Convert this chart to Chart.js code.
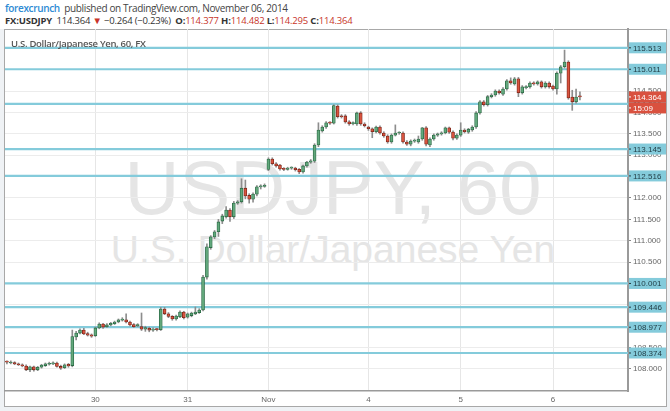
<!DOCTYPE html>
<html>
<head>
<meta charset="utf-8">
<script src="https://cdn.jsdelivr.net/npm/chart.js@4.4.1/dist/chart.umd.min.js"></script>
<style>
  body { margin: 0; width: 670px; height: 411px; overflow: hidden; position: relative;
         background: #eff2f5; font-family: "Liberation Sans", Arial, sans-serif; }
  #top { position: absolute; left: 0; top: 0; width: 670px; height: 29px; background: #fff; }
  #hdr1 { position: absolute; left: 5px; top: 1px; font-size: 10px; color: #444; white-space: nowrap;
          font-family: "Open Sans", sans-serif; letter-spacing: -0.35px; }
  #hdr1 .brand { color: #2e8bd4; font-weight: 600; }
  #hdr2 { position: absolute; left: 5px; top: 14px; font-size: 9.5px; color: #333; white-space: nowrap;
          font-family: "Open Sans", sans-serif; letter-spacing: -0.2px; }
  #hdr2 b { font-weight: 700; }
  #hdr2 .red { color: #c8352a; }
  #panel { position: absolute; left: 4px; top: 29px; width: 661px; height: 376px;
           border: 1px solid #a8a8a8; background: #fff; }
  .wm { position: absolute; left: 0; width: 666px; text-align: center; color: #e5e5e5;
        line-height: 1; white-space: nowrap; font-family: "Liberation Sans", Arial, sans-serif; }
  #wm1 { top: 150px; font-size: 76px; }
  #wm2 { top: 230px; font-size: 39px; }
  #title { position: absolute; left: 11px; top: 37px; font-size: 9.5px; color: #555; font-weight: 600;
           font-family: "Open Sans", sans-serif; letter-spacing: -0.3px; white-space: nowrap; }
  canvas { position: absolute; left: 0; top: 0; }
</style>
</head>
<body>
<div id="top"></div>
<div id="hdr1"><span class="brand">forexcrunch</span>&nbsp; published on TradingView.com, November 06, 2014</div>
<div id="hdr2"><b>FX:USDJPY</b>&nbsp; 114.364 <span class="red">▼</span> −0.264 (−0.23%) &nbsp;<b>O:</b><span class="red">114.377</span> <b>H:</b><span class="red">114.482</span> <b>L:</b><span class="red">114.295</span> <b>C:</b><span class="red">114.364</span></div>
<div id="panel"></div>
<div class="wm" id="wm1">USDJPY, 60</div>
<div class="wm" id="wm2">U.S. Dollar/Japanese Yen</div>
<canvas id="chart" width="670" height="411"></canvas>
<div id="title">U.S. Dollar/Japanese Yen, 60, FX</div>
<script>
// hourly USDJPY candles, Oct 29 - Nov 6 2014
const opens = [
  108.17, 108.14, 108.15, 108.12, 108.10, 108.07, 107.98, 108.05, 107.98, 108.04,
  108.08, 108.11, 108.12, 108.14, 108.06, 108.03, 108.11, 108.08, 108.75, 108.84,
  108.91, 108.83, 108.80, 108.78, 108.96, 109.05, 108.99, 109.03, 109.06, 109.10,
  109.14, 109.15, 109.10, 109.04, 109.01, 108.99, 108.93, 108.95, 108.91, 108.93,
  108.92, 109.40, 109.29, 109.23, 109.17, 109.22, 109.33, 109.21, 109.25, 109.29,
  109.32, 109.38, 110.15, 110.84, 111.09, 111.21, 111.46, 111.56, 111.72, 111.56,
  111.88, 111.91, 112.23, 112.06, 111.97, 112.09, 112.26, 112.27, 112.67, 112.91,
  112.80, 112.77, 112.68, 112.67, 112.70, 112.70, 112.67, 112.61, 112.75, 112.84,
  112.86, 113.24, 113.57, 113.66, 113.76, 113.75, 114.15, 113.92, 113.92, 113.78,
  113.74, 113.73, 113.99, 113.73, 113.66, 113.62, 113.55, 113.66, 113.52, 113.45,
  113.31, 113.47, 113.52, 113.52, 113.31, 113.26, 113.33, 113.31, 113.38, 113.64,
  113.24, 113.38, 113.47, 113.50, 113.52, 113.64, 113.54, 113.40, 113.47, 113.59,
  113.54, 113.59, 113.66, 113.99, 114.25, 114.18, 114.37, 114.41, 114.50, 114.43,
  114.55, 114.74, 114.67, 114.79, 114.46, 114.58, 114.60, 114.69, 114.67, 114.72,
  114.60, 114.69, 114.62, 114.55, 114.92, 115.07, 115.18, 114.36, 114.25, 114.377
];
const highs = [
  108.19, 108.19, 108.17, 108.14, 108.12, 108.10, 108.07, 108.07, 108.06, 108.11,
  108.14, 108.16, 108.17, 108.16, 108.09, 108.12, 108.13, 108.91, 108.88, 108.94,
  108.95, 108.86, 108.82, 108.98, 109.08, 109.07, 109.06, 109.09, 109.12, 109.17,
  109.20, 109.29, 109.12, 109.06, 109.06, 109.31, 109.00, 108.98, 108.96, 108.95,
  109.44, 109.44, 109.32, 109.25, 109.26, 109.36, 109.35, 109.31, 109.33, 109.45,
  109.41, 110.19, 110.93, 111.12, 111.24, 111.50, 111.62, 111.80, 111.75, 111.92,
  111.94, 112.45, 112.42, 112.10, 112.12, 112.29, 112.31, 112.33, 112.94, 112.94,
  112.83, 112.79, 112.71, 112.72, 112.73, 112.72, 112.69, 112.77, 112.86, 112.90,
  113.27, 113.76, 113.69, 113.79, 113.79, 114.18, 114.18, 113.95, 113.95, 113.81,
  113.78, 114.01, 114.02, 113.76, 113.68, 113.64, 113.68, 113.69, 113.55, 113.48,
  113.50, 113.71, 113.55, 113.55, 113.34, 113.36, 113.38, 113.45, 113.65, 113.67,
  113.41, 113.50, 113.52, 113.55, 113.66, 113.66, 113.57, 113.50, 113.76, 113.62,
  113.63, 113.69, 114.02, 114.28, 114.28, 114.40, 114.44, 114.53, 114.53, 114.58,
  114.77, 114.81, 114.82, 114.82, 114.63, 114.63, 114.72, 114.72, 114.74, 114.74,
  114.72, 114.72, 114.64, 114.95, 115.10, 115.46, 115.21, 114.52, 114.55, 114.482
];
const lows = [
  108.12, 108.12, 108.10, 108.08, 108.05, 107.96, 107.94, 107.95, 107.96, 108.02,
  108.06, 108.09, 108.10, 108.04, 107.99, 108.01, 108.04, 108.05, 108.68, 108.82,
  108.80, 108.77, 108.74, 108.76, 108.94, 108.95, 108.97, 109.01, 109.04, 109.08,
  109.12, 109.08, 109.01, 108.97, 108.99, 108.90, 108.88, 108.87, 108.88, 108.89,
  108.90, 109.27, 109.20, 109.14, 109.14, 109.20, 109.17, 109.19, 109.22, 109.27,
  109.30, 109.36, 110.10, 110.80, 111.05, 111.10, 111.40, 111.53, 111.45, 111.52,
  111.85, 111.88, 111.98, 111.88, 111.90, 112.05, 112.21, 112.25, 112.64, 112.77,
  112.72, 112.65, 112.64, 112.65, 112.67, 112.63, 112.57, 112.58, 112.72, 112.81,
  112.83, 113.20, 113.54, 113.63, 113.72, 113.73, 113.87, 113.87, 113.75, 113.70,
  113.71, 113.70, 113.70, 113.66, 113.58, 113.41, 113.52, 113.49, 113.42, 113.28,
  113.28, 113.45, 113.49, 113.28, 113.23, 113.22, 113.30, 113.28, 113.35, 113.22,
  113.20, 113.35, 113.44, 113.47, 113.50, 113.51, 113.36, 113.37, 113.44, 113.52,
  113.51, 113.56, 113.63, 113.96, 114.15, 114.15, 114.34, 114.38, 114.43, 114.40,
  114.52, 114.66, 114.64, 114.37, 114.43, 114.55, 114.57, 114.64, 114.64, 114.57,
  114.57, 114.57, 114.52, 114.43, 114.69, 115.04, 114.31, 114.05, 114.22, 114.295
];
const closes = [
  108.16, 108.15, 108.12, 108.10, 108.07, 107.98, 108.05, 107.98, 108.04, 108.09,
  108.12, 108.13, 108.14, 108.06, 108.02, 108.10, 108.07, 108.76, 108.84, 108.91,
  108.82, 108.79, 108.77, 108.96, 109.05, 108.98, 109.03, 109.07, 109.10, 109.15,
  109.17, 109.10, 109.03, 108.99, 109.04, 108.93, 108.97, 108.91, 108.93, 108.92,
  109.40, 109.29, 109.23, 109.17, 109.24, 109.33, 109.20, 109.29, 109.31, 109.33,
  109.38, 110.15, 110.86, 111.09, 111.21, 111.44, 111.58, 111.72, 111.56, 111.88,
  111.91, 112.23, 112.05, 111.97, 112.09, 112.26, 112.27, 112.29, 112.91, 112.80,
  112.75, 112.68, 112.67, 112.70, 112.70, 112.66, 112.61, 112.75, 112.84, 112.87,
  113.24, 113.59, 113.66, 113.76, 113.75, 114.16, 113.90, 113.90, 113.78, 113.73,
  113.75, 113.99, 113.73, 113.69, 113.62, 113.55, 113.66, 113.52, 113.45, 113.31,
  113.47, 113.52, 113.52, 113.31, 113.26, 113.33, 113.35, 113.38, 113.64, 113.26,
  113.38, 113.47, 113.50, 113.52, 113.64, 113.54, 113.40, 113.47, 113.59, 113.55,
  113.61, 113.66, 113.99, 114.25, 114.18, 114.37, 114.41, 114.50, 114.46, 114.55,
  114.74, 114.69, 114.79, 114.46, 114.60, 114.60, 114.69, 114.67, 114.72, 114.60,
  114.69, 114.60, 114.55, 114.92, 115.07, 115.18, 114.34, 114.25, 114.36, 114.364
];

// horizontal levels drawn on the chart
const levels = [115.513, 115.011, 114.200, 113.145, 112.516, 110.001, 109.446, 108.977, 108.374];

// day labels on the time axis and the hourly slot they sit on
const dayLabels = ['30', '31', 'Nov', '4', '5', '6'];
const dayIndex = [23, 47, 68, 94, 118, 142];
const totalSlots = 162; // includes empty space right of the last bar
const countdown = '15:09';

const hourLabels = new Array(totalSlots).fill('');
dayIndex.forEach((d, k) => { hourLabels[d] = dayLabels[k]; });

const upFill = '#62a87c', upLine = '#2c6a45';
const dnFill = '#d9543f', dnLine = '#7b2519';
const bodyFill = opens.map((o, i) => closes[i] >= o ? upFill : dnFill);
const bodyLine = opens.map((o, i) => closes[i] >= o ? upLine : dnLine);

const fontFam = '"Liberation Sans", Arial, sans-serif';

const levelPlugin = {
  id: 'levels',
  beforeDatasetsDraw(chart) {
    const { ctx, chartArea: a, scales: { y } } = chart;
    ctx.save();
    ctx.strokeStyle = '#84cbdb';
    ctx.lineWidth = 2.2;
    levels.forEach(v => {
      const py = y.getPixelForValue(v);
      ctx.beginPath();
      ctx.moveTo(a.left, py);
      ctx.lineTo(a.right, py);
      ctx.stroke();
    });
    ctx.restore();
  },
  afterDraw(chart) {
    const { ctx, chartArea: a, scales: { y } } = chart;
    const box = (text, py, fill, color) => {
      ctx.fillStyle = fill;
      ctx.fillRect(a.right + 1, py - 5.5, 37, 11);
      ctx.fillStyle = color;
      ctx.fillRect(a.right + 1, py - 0.5, 2, 1);
      ctx.fillText(text, a.right + 5, py + 0.5);
    };
    ctx.save();
    ctx.font = '8px ' + fontFam;
    ctx.textBaseline = 'middle';
    levels.forEach(v => box(v.toFixed(3), y.getPixelForValue(v), '#84cbdb', '#1f3a42'));
    const last = closes[closes.length - 1];
    const py = y.getPixelForValue(last);
    box(last.toFixed(3), py, '#d9513f', '#ffffff');
    box(countdown, py + 11, '#d9513f', '#ffffff');
    ctx.restore();
  }
};

const ctx = document.getElementById('chart');

new Chart(ctx, {
  type: 'bar',
  data: {
    labels: hourLabels,
    datasets: [
      {
        label: 'body',
        data: opens.map((o, i) => [o, closes[i]]),
        backgroundColor: bodyFill,
        borderColor: bodyLine,
        borderWidth: 0.8,
        borderSkipped: false,
        barThickness: 3,
        minBarLength: 1,
        grouped: false,
        order: 0,
      },
      {
        label: 'wick',
        data: lows.map((l, i) => [l, highs[i]]),
        backgroundColor: '#8d8d8d',
        barThickness: 1,
        grouped: false,
        order: 1,
      },
    ],
  },
  options: {
    responsive: false,
    animation: false,
    layout: { padding: { left: 5, top: 29, right: 4, bottom: 5 } },
    plugins: { legend: { display: false }, tooltip: { enabled: false } },
    scales: {
      x: {
        type: 'category',
        offset: true,
        grid: {
          offset: false,
          color: c => hourLabels[c.index] ? '#e6e6e6' : 'rgba(0,0,0,0)',
          tickLength: 3,
          tickColor: 'rgba(0,0,0,0)',
        },
        border: { color: '#9a9a9a', width: 1.5 },
        ticks: {
          autoSkip: false,
          maxRotation: 0,
          padding: 1,
          color: '#666',
          font: { size: 8, family: fontFam },
          callback: (v, i) => hourLabels[i],
        },
        afterFit: s => { s.height = 15; },
      },
      y: {
        position: 'right',
        min: 107.485,
        max: 115.953,
        grid: { color: '#ececec', tickLength: 3, tickColor: '#888' },
        border: { color: '#9a9a9a', width: 2 },
        ticks: {
          stepSize: 0.5,
          includeBounds: false,
          padding: 2,
          color: '#666',
          font: { size: 8, family: fontFam },
          callback: v => v.toFixed(3),
        },
        afterBuildTicks: s => { s.ticks = s.ticks.filter(t => t.value > 107.6); },
        afterFit: s => { s.width = 38; },
      },
    },
  },
  plugins: [levelPlugin],
});
</script>
</body>
</html>
